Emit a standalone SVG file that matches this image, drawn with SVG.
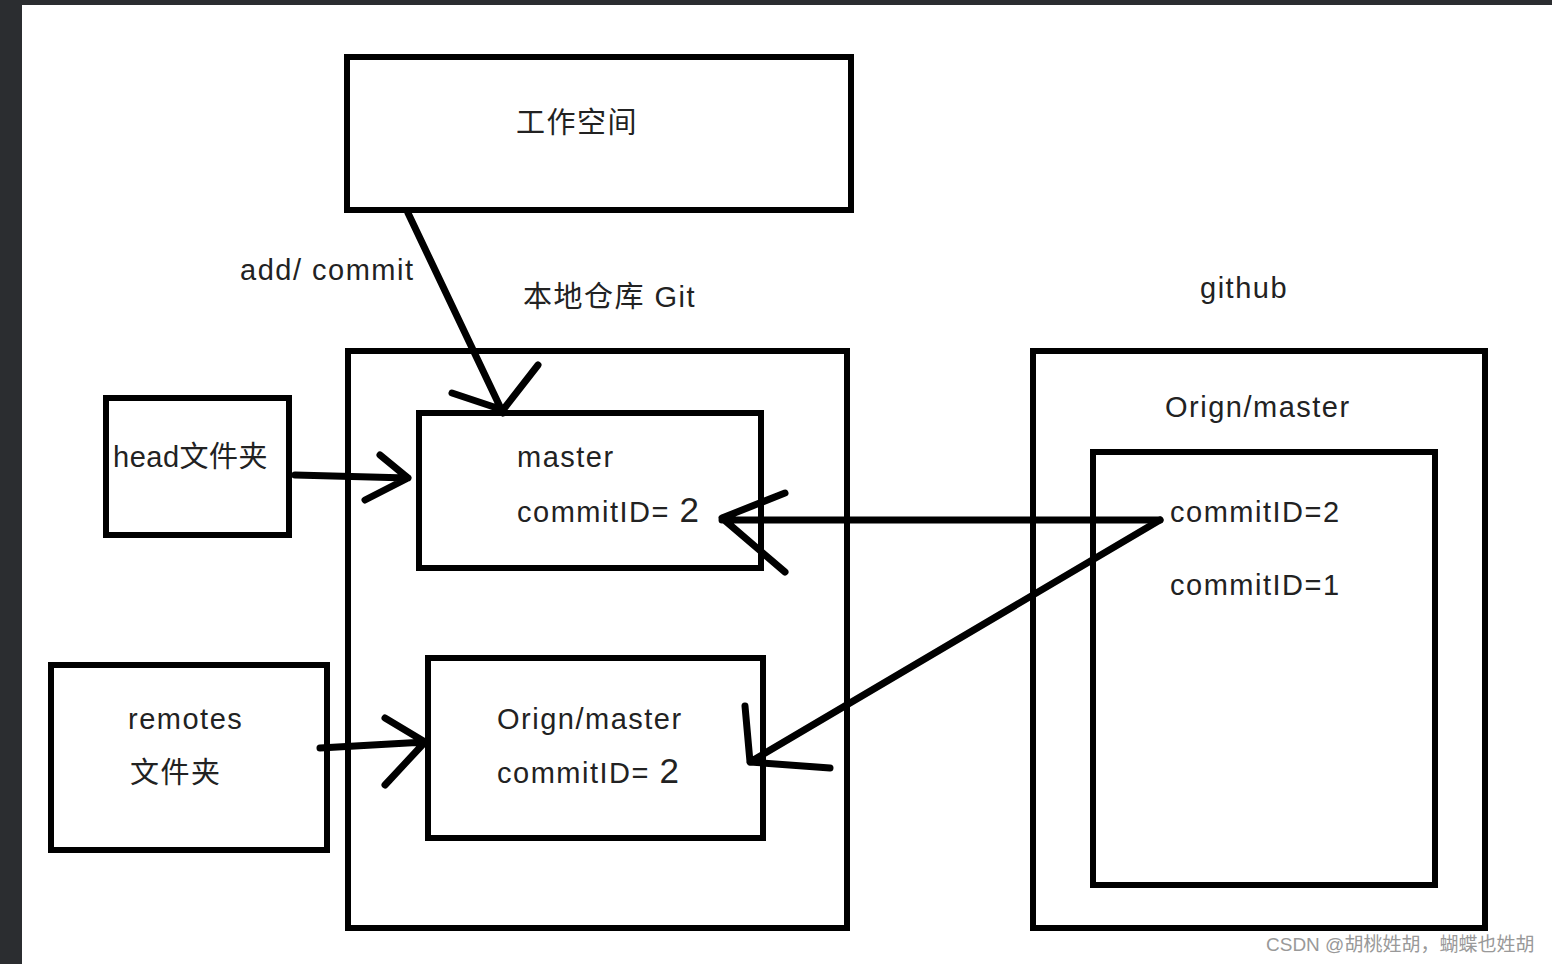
<svg xmlns="http://www.w3.org/2000/svg" width="1552" height="964" viewBox="0 0 1552 964">
<style>
.b{fill:none;stroke:#000;stroke-width:6}
.c{fill:none;stroke:#000;stroke-width:7;stroke-linecap:round;stroke-linejoin:round}
text{font-family:"Liberation Sans","Noto Sans CJK SC",sans-serif;font-size:29px;letter-spacing:1.5px;fill:#222}
</style>
<rect width="1552" height="964" fill="#fff"/>
<rect width="22" height="964" fill="#2b2d30"/>
<rect width="1552" height="5" fill="#2b2d30"/>
<g id="workspace"><rect class="b" x="347" y="57" width="504" height="153"/><text x="516" y="133">工作空间</text></g>
<g id="local"><rect class="b" x="348" y="351" width="499" height="577"/><text x="523" y="307">本地仓库 Git</text></g>
<g id="master"><rect class="b" x="419" y="413" width="342" height="155"/><text x="517" y="467">master</text><text x="517" y="522">commitID= <tspan font-size="35">2</tspan></text></g>
<g id="head"><rect class="b" x="106" y="398" width="183" height="137"/><text x="113" y="467" style="letter-spacing:0.5px">head文件夹</text></g>
<g id="remotes"><rect class="b" x="51" y="665" width="276" height="185"/><text x="128" y="729">remotes</text><text x="130" y="783">文件夹</text></g>
<g id="origin-local"><rect class="b" x="428" y="658" width="335" height="180"/><text x="497" y="729">Orign/master</text><text x="497" y="783">commitID= <tspan font-size="35">2</tspan></text></g>
<g id="github"><rect class="b" x="1033" y="351" width="452" height="577"/><text x="1200" y="298">github</text><text x="1165" y="417">Orign/master</text></g>
<g id="github-inner"><rect class="b" x="1093" y="452" width="342" height="433"/><text x="1170" y="522">commitID=2</text><text x="1170" y="595">commitID=1</text></g>
<g id="connectors">
<path class="c" d="M408 213 L503 413 M452 393 L503 410 L538 365"/>
<text x="240" y="280">add/ commit</text>
<path class="c" d="M295 475 L408 478 M380 455 L408 478 L365 500"/>
<path class="c" d="M320 748 L425 742 M385 718 L425 742 L385 785"/>
<path class="c" d="M1160 520 L722 520 M785 493 L722 518 L785 572"/>
<path class="c" d="M1160 520 L750 762 M745 706 L750 762 L830 768"/>
</g>
<text x="1266" y="951" style="font-size:19px;letter-spacing:0;fill:#999">CSDN @胡桃姓胡，蝴蝶也姓胡</text>
</svg>
